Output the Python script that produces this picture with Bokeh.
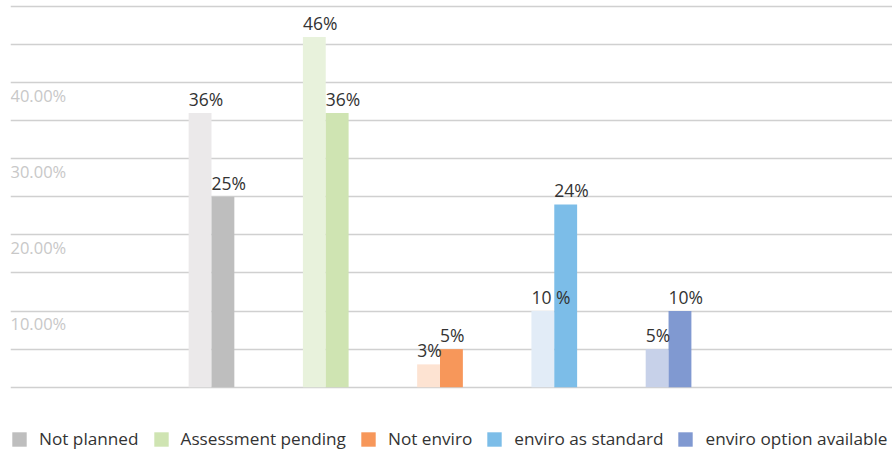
from bokeh.plotting import figure
from bokeh.models import ColumnDataSource, Legend, LegendItem, Range1d, FixedTicker
from bokeh.core.properties import value
from bokeh.embed import file_html
from bokeh.resources import INLINE

categories = ["Not planned", "Assessment pending", "Not enviro", "enviro as standard", "enviro option available"]
light_values = [36, 46, 3, 10, 5]
dark_values = [25, 36, 5, 24, 10]
light_labels = ["36%", "46%", "3%", "10 %", "5%"]
dark_labels = ["25%", "36%", "5%", "24%", "10%"]
light_colors = ["#ebe9ea", "#e8f2dc", "#fde3d2", "#e2ecf7", "#c7d1e9"]
dark_colors = ["#bebebe", "#cfe4b2", "#f7975a", "#7cbde8", "#8099d1"]
tick_values = [10, 20, 30, 40]
tick_labels = ["10.00%", "20.00%", "30.00%", "40.00%"]

FONT = "Open Sans"
bw = 0.2
idx = list(range(len(categories)))
x0, x1 = -1.759, 5.96

p = figure(frame_width=882, frame_height=446, output_backend="svg", toolbar_location=None,
           x_range=Range1d(x0, x1), y_range=Range1d(-8.31, 50.26),
           min_border_left=10, min_border_right=0, min_border_top=4, min_border_bottom=0)
p.xaxis.visible = False
p.yaxis.visible = False
p.outline_line_color = None
p.xgrid.grid_line_color = None
p.ygrid.ticker = FixedTicker(ticks=list(range(0, 55, 5)))
p.ygrid.grid_line_color = "#d0d0d0"
p.ygrid.grid_line_width = 1.6

light_src = ColumnDataSource(dict(x=[i - bw / 2 for i in idx], top=light_values, color=light_colors,
                                  label=light_labels, lx=[i - bw for i in idx]))
dark_src = ColumnDataSource(dict(x=[i + bw / 2 for i in idx], top=dark_values, color=dark_colors,
                                 label=dark_labels, lx=[i for i in idx]))

p.vbar(x="x", top="top", bottom=0, width=bw, color="color", line_color=None, source=light_src)
items = []
for i, c in enumerate(categories):
    src = ColumnDataSource(dict(x=[i + bw / 2], top=[dark_values[i]]))
    r = p.vbar(x="x", top="top", bottom=0, width=bw, color=dark_colors[i], line_color=None, source=src)
    items.append(LegendItem(label=c, renderers=[r]))

for src in (light_src, dark_src):
    p.text(x="lx", y="top", text="label", source=src, text_font=value(FONT), text_font_size="17.5px",
           text_color="#333333", text_align="left", text_baseline="bottom", y_offset=-2)

ysrc = ColumnDataSource(dict(y=tick_values, label=tick_labels, x=[x0] * len(tick_values)))
p.text(x="x", y="y", text="label", source=ysrc, text_font=value(FONT), text_font_size="16.5px",
       text_color="#c8c8c8", text_align="left", text_baseline="top", y_offset=1)

legend = Legend(items=items, orientation="horizontal", location=(0, 0),
                glyph_width=18, glyph_height=18, label_standoff=11, spacing=13,
                label_text_font=FONT, label_text_font_size="17.2px", label_text_color="#333333",
                border_line_color=None, background_fill_alpha=0, margin=0, padding=1)
p.add_layout(legend, "center")

open("out.html", "w").write(file_html(p, INLINE))
